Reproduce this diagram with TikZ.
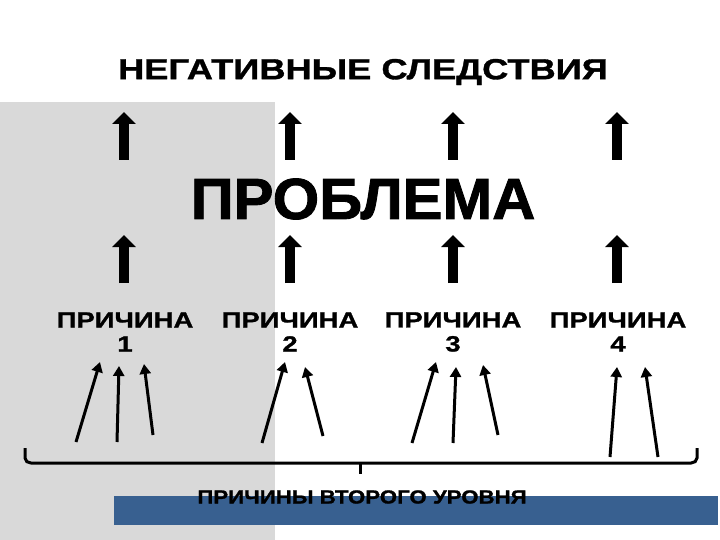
\documentclass[tikz,border=0pt]{standalone}
\usepackage{fontspec}
\setmainfont{Liberation Sans}
\newfontfamily\wideA[FakeStretch=1.25,FakeBold=1.2]{Liberation Sans}
\newfontfamily\wideB[FakeStretch=1.25,FakeBold=1.2]{Liberation Sans}
\newfontfamily\wideC[FakeStretch=1.17,FakeBold=1.2]{Liberation Sans}
\newfontfamily\wideP[FakeStretch=1.03,FakeBold=1.5]{Liberation Sans}
\usetikzlibrary{arrows.meta}
\definecolor{panelgray}{RGB}{217,217,217}
\definecolor{barblue}{RGB}{56,96,144}
\begin{document}
\begin{tikzpicture}[x=1pt,y=-1pt,
  bigarrow/.style={line width=10pt,-{Triangle[length=12pt,width=23pt]}},
  thinarrow/.style={line width=3pt,-{Triangle[length=10pt,width=11pt]}},
  cause/.style={font=\wideB\bfseries\fontsize{22}{24}\selectfont,align=center,inner sep=0pt},
  bracket/.style={line width=3pt}]
\useasboundingbox (0,0) rectangle (720,540);
\fill[white] (0,0) rectangle (720,540);
\fill[panelgray] (0,102) rectangle (275,540);
\fill[barblue] (114,496) rectangle (718,525);
\node[font=\wideA\bfseries\fontsize{29}{32}\selectfont,inner sep=0pt] (title) at (363,72) {НЕГАТИВНЫЕ СЛЕДСТВИЯ};
\node[font=\wideP\bfseries\fontsize{58}{60}\selectfont,inner sep=0pt] (problem) at (363,199) {ПРОБЛЕМА};
\foreach \i/\x in {1/124,2/290,3/453,4/617}{
  \coordinate (tb\i) at (\x,160);
  \coordinate (tt\i) at (\x,112);
  \coordinate (bb\i) at (\x,283);
  \coordinate (bt\i) at (\x,235);
  \draw[bigarrow] (tb\i) -- (tt\i);
  \draw[bigarrow] (bb\i) -- (bt\i);
}
\node[cause] (c1) at (125,332) {ПРИЧИНА\\1};
\node[cause] (c2) at (290,332) {ПРИЧИНА\\2};
\node[cause] (c3) at (453,332) {ПРИЧИНА\\3};
\node[cause] (c4) at (618,332) {ПРИЧИНА\\4};
% second level arrows
\draw[thinarrow] (76,442) -- (100,362);
\draw[thinarrow] (117,442) -- (119,366);
\draw[thinarrow] (153,435) -- (144,364);
\draw[thinarrow] (262,443) -- (285,362);
\draw[thinarrow] (323,436) -- (305,367);
\draw[thinarrow] (412,443) -- (436,362);
\draw[thinarrow] (453,443) -- (456,367);
\draw[thinarrow] (498,435) -- (483,365);
\draw[thinarrow] (610,457) -- (617,367);
\draw[thinarrow] (658,457) -- (645,367);
% bracket
\coordinate (bl) at (25,448);
\coordinate (br) at (697,448);
\coordinate (bm) at (360,463);
\draw[bracket] (bl) -- (25,458) to[out=-90,in=180] (31,463) -- (691,463) to[out=0,in=-90] (697,458) -- (br);
\draw[bracket] (bm) -- (360,474);
\node[font=\wideC\bfseries\fontsize{19}{20}\selectfont,inner sep=0pt] (second) at (362,497) {ПРИЧИНЫ ВТОРОГО УРОВНЯ};
\end{tikzpicture}
\end{document}
